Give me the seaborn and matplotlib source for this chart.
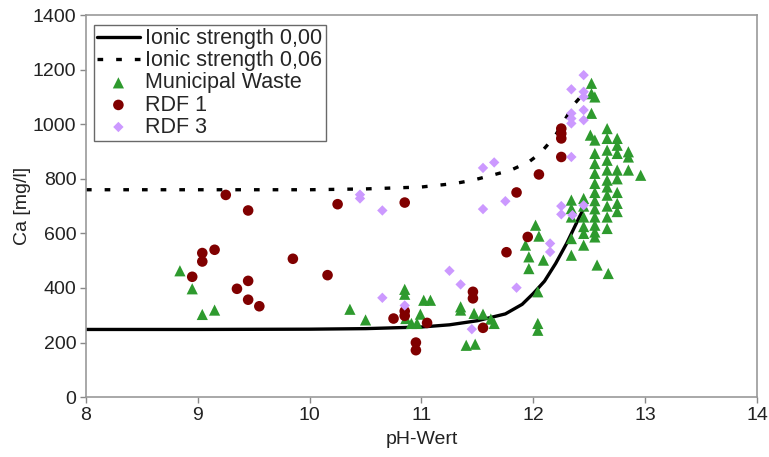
import matplotlib
matplotlib.use("Agg")
import matplotlib.pyplot as plt
import seaborn as sns
import pandas as pd

# ---- data ----
line0_ph = [8.0, 9.0, 10.0, 10.5, 11.0, 11.25, 11.5, 11.75, 11.9, 12.0, 12.1, 12.2, 12.3, 12.4, 12.47]
line0_ca = [248, 248, 249, 251, 257, 265, 280, 305, 340, 380, 425, 490, 565, 650, 707]

line6_ph = [8.0, 9.0, 10.0, 10.5, 11.0, 11.3, 11.46, 11.63, 11.8, 11.96, 12.06, 12.19, 12.28, 12.37, 12.42]
line6_ca = [760, 760, 760, 763, 770, 783, 795, 813, 832, 862, 893, 954, 1015, 1076, 1099]

mw_ph = [8.84, 8.95, 9.04, 9.15,
         10.36, 10.5, 10.85, 10.85, 10.86, 10.91, 10.96, 10.99, 11.02, 11.08, 11.35, 11.35,
         11.47, 11.55, 11.62, 11.65, 11.4, 11.48,
         12.02, 12.05, 11.93, 11.96, 11.96, 12.09, 12.04, 12.04, 12.04,
         12.34, 12.34, 12.34, 12.34, 12.34, 12.45, 12.45, 12.45, 12.45, 12.45, 12.45,
         12.57, 12.67,
         12.52, 12.52, 12.55, 12.52,
         12.51,
         12.55, 12.55, 12.55, 12.55, 12.55, 12.55, 12.55, 12.55, 12.55, 12.55, 12.55, 12.55,
         12.66, 12.66, 12.66, 12.66, 12.66, 12.66, 12.66, 12.66, 12.66, 12.66, 12.66,
         12.75, 12.75, 12.75, 12.75, 12.75, 12.75, 12.75, 12.75,
         12.85, 12.85, 12.85,
         12.96]
mw_ca = [463, 397, 303, 319,
         322, 283, 395, 377, 288, 270, 270, 304, 355, 355, 331, 319,
         307, 304, 286, 270, 190, 194,
         630, 590, 557, 514, 471, 502, 386, 270, 245,
         722, 691, 660, 581, 520, 728, 700, 660, 625, 600, 557,
         484, 453,
         1150, 1112, 1100, 1040,
         960,
         942, 893, 856, 820, 783, 750, 720, 690, 660, 630, 605, 587,
         984, 948, 905, 868, 832, 795, 770, 740, 700, 660, 618,
         948, 923, 893, 832, 800, 750, 710, 680,
         899, 880, 832,
         813]

rdf1_ph = [9.25, 9.45, 9.04, 9.15, 9.04, 8.95, 9.45, 9.35, 9.45, 9.55, 9.85, 10.16,
           10.25, 10.85, 10.85, 10.85, 10.75, 11.05, 10.95, 10.95, 11.46, 11.46, 11.55,
           11.76, 11.85, 11.95, 12.05, 12.25, 12.25, 12.25, 12.25]
rdf1_ca = [741, 684, 528, 540, 497, 441, 426, 397, 357, 333, 507, 447,
           707, 713, 315, 298, 288, 272, 200, 172, 386, 362, 254,
           531, 750, 587, 816, 984, 966, 948, 880]

rdf3_ph = [10.45, 10.45, 10.65, 10.65, 10.85, 11.25, 11.35, 11.45, 11.55, 11.65, 11.55,
           11.75, 11.85, 12.15, 12.15, 12.25, 12.25, 12.35, 12.45, 12.34, 12.45, 12.34,
           12.45, 12.45, 12.45, 12.34, 12.34, 12.34, 12.45]
rdf3_ca = [742, 728, 684, 364, 336, 463, 413, 249, 840, 860, 689,
           718, 401, 563, 532, 700, 670, 667, 703, 880, 1180, 1128,
           1119, 1100, 1052, 1040, 1021, 1003, 1015]

x_ticks = [8, 9, 10, 11, 12, 13, 14]
y_ticks = [0, 200, 400, 600, 800, 1000, 1200, 1400]

# ---- style ----
sns.set_style("ticks")
plt.rcParams['font.family'] = ['Liberation Sans', 'DejaVu Sans']

fig = plt.figure(figsize=(7.69, 4.57), dpi=100)
ax = fig.add_axes([0.1118, 0.131, 0.8726, 0.836])

l0 = pd.DataFrame({"pH": line0_ph, "Ca": line0_ca})
l6 = pd.DataFrame({"pH": line6_ph, "Ca": line6_ca})
sns.lineplot(data=l0, x="pH", y="Ca", ax=ax, color="black", linewidth=2.4,
             label="Ionic strength 0,00", sort=False, zorder=2)
sns.lineplot(data=l6, x="pH", y="Ca", ax=ax, color="black", linewidth=2.4,
             linestyle=(0, (1.7, 3.9)), label="Ionic strength 0,06", sort=False, zorder=2)

mw = pd.DataFrame({"pH": mw_ph, "Ca": mw_ca})
r1 = pd.DataFrame({"pH": rdf1_ph, "Ca": rdf1_ca})
r3 = pd.DataFrame({"pH": rdf3_ph, "Ca": rdf3_ca})
sns.scatterplot(data=mw, x="pH", y="Ca", ax=ax, marker="^", s=65, color="#2E9A2E",
                edgecolor="none", label="Municipal Waste", zorder=3)
sns.scatterplot(data=r1, x="pH", y="Ca", ax=ax, marker="o", s=58, color="#800000",
                edgecolor="none", label="RDF 1", zorder=4)
sns.scatterplot(data=r3, x="pH", y="Ca", ax=ax, marker="D", s=28, color="#CC99FF",
                edgecolor="none", label="RDF 3", zorder=5)

ax.set_xlim(8, 14)
ax.set_ylim(0, 1400)
ax.set_xticks(x_ticks)
ax.set_yticks(y_ticks)
ax.tick_params(axis="both", labelsize=14, length=4, width=1,
               color="#888888", labelcolor="#222222", pad=3)
ax.set_xlabel("pH-Wert", fontsize=14, color="#222222", labelpad=5)
ax.set_ylabel("Ca [mg/l]", fontsize=14, color="#222222", labelpad=1)
for sp in ax.spines.values():
    sp.set_visible(True)
    sp.set_color("#999999")
    sp.set_linewidth(1.2)
ax.grid(False)

leg = ax.legend(loc="upper left", bbox_to_anchor=(0.005, 0.985), fontsize=15.5,
                frameon=True, fancybox=False, borderpad=0.15, labelspacing=0.05,
                handlelength=2.0, handletextpad=0.25, borderaxespad=0.2)
leg.get_frame().set_edgecolor("#444444")
leg.get_frame().set_linewidth(1.0)

fig.savefig("out.png", dpi=100)
